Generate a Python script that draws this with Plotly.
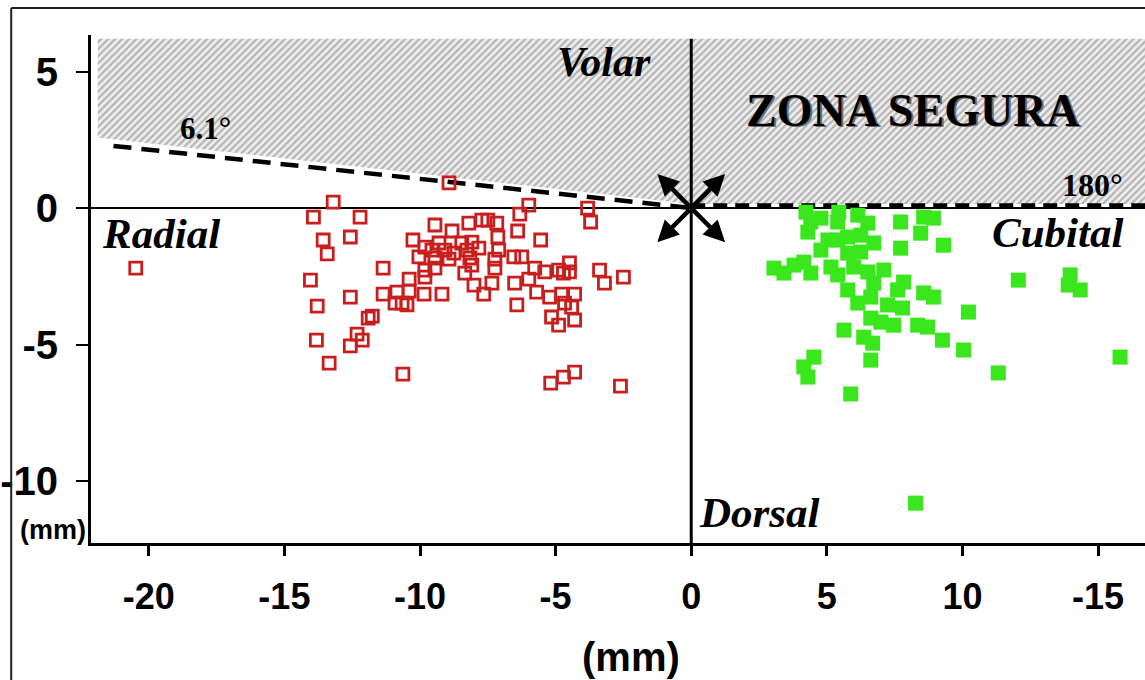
import numpy as np
import plotly.graph_objects as go

# Radial-side measurements (mm): open red squares
radial_x = [-20.48, -13.20, -13.93, -12.21, -13.57, -12.57, -13.42, -14.04, -11.36, -13.79,
            -12.57, -11.36, -11.76, -11.91, -13.82, -12.32, -12.13, -12.57, -13.35,
            -8.93, -5.99, -6.32, -3.82, -3.71, -9.45, -8.82, -8.20, -7.72, -7.50, -7.17,
            -7.13, -6.40, -5.55, -10.26, -9.82, -9.56, -9.30, -9.08, -8.75, -8.46, -8.27,
            -8.09, -7.83, -10.04, -9.45, -8.93, -8.16, -7.10, -7.24, -6.54, -6.25,
            -9.82, -9.45, -8.09, -7.24, -5.77, -5.40, -4.89, -4.49, -4.49, -4.71, -3.38,
            -3.20, -2.50, -10.40, -9.82, -8.35, -8.01, -7.35, -6.51, -5.99, -10.85, -10.40,
            -9.85, -9.19, -7.65, -5.70, -5.22, -4.78, -4.30, -10.92, -10.48, -10.66, -6.43,
            -4.67, -4.41, -5.15, -4.30, -4.89, -10.63, -5.18, -4.71, -4.30, -2.61]
radial_y = [-2.20, 0.22, -0.33, -0.33, -1.17, -1.06, -1.68, -2.64, -2.20, -3.59,
            -3.26, -3.15, -3.96, -4.03, -4.84, -4.62, -4.84, -5.05, -5.68,
            0.92, 0.11, -0.22, 0.00, -0.51, -0.62, -0.84, -0.55, -0.44, -0.44, -0.55,
            -1.06, -0.84, -1.17, -1.17, -1.43, -1.54, -1.28, -1.54, -1.65, -1.28, -1.54,
            -1.25, -1.47, -1.79, -1.83, -1.87, -1.83, -1.54, -1.87, -1.79, -1.79,
            -2.27, -2.20, -2.09, -2.20, -2.20, -2.34, -2.27, -2.01, -2.34, -2.38, -2.27,
            -2.75, -2.53, -2.60, -2.53, -2.38, -2.82, -2.75, -2.75, -2.60, -3.08, -3.04,
            -3.15, -3.15, -3.15, -3.08, -3.26, -3.15, -3.15, -3.48, -3.55, -3.48, -3.55,
            -3.48, -3.63, -3.99, -4.10, -4.29, -6.08, -6.41, -6.19, -6.01, -6.52]

# Ulnar-side measurements (mm): filled green squares
cubital_x = [4.41, 4.30, 4.78, 5.40, 6.14, 6.51, 7.72, 8.57, 8.93, 8.46, 9.30, 7.72,
             5.04, 5.40, 5.77, 6.25, 6.73, 4.78, 5.77, 6.25, 3.05, 3.42, 3.79, 4.15,
             4.41, 5.15, 5.40, 5.99, 6.51, 7.10, 6.73, 7.83, 5.77, 7.61, 8.57, 8.93,
             6.14, 6.62, 7.24, 7.79, 10.22, 12.06, 13.97, 13.90, 14.34, 5.63, 6.62,
             6.99, 7.46, 8.35, 8.71, 6.36, 6.69, 9.26, 10.04, 4.52, 4.15, 4.30, 6.62,
             11.32, 15.81, 5.88, 8.27, 4.23, 5.44]
cubital_y = [-0.51, -0.88, -0.37, -0.51, -0.26, -0.55, -0.51, -0.33, -0.37, -0.92, -1.36, -1.47,
             -1.17, -1.17, -1.06, -0.99, -1.28, -1.54, -1.65, -1.61, -2.20, -2.38, -2.09, -1.98,
             -2.38, -2.16, -2.45, -2.16, -2.34, -2.27, -2.75, -2.71, -3.00, -3.00, -3.11, -3.26,
             -3.48, -3.26, -3.55, -3.66, -3.81, -2.64, -2.45, -2.82, -3.00, -4.47, -4.03,
             -4.18, -4.29, -4.29, -4.36, -4.73, -4.95, -4.84, -5.20, -5.46, -5.82, -6.19, -5.57,
             -6.04, -5.46, -6.81, -10.81, -0.15, -0.15]

# Axis ticks (the last x label is printed as "-15" on the ulnar side)
x_tickvals = [-20, -15, -10, -5, 0, 5, 10, 15]
x_ticktext = ["-20", "-15", "-10", "-5", "0", "5", "10", "-15"]
y_tickvals = [5, 0, -5, -10]
y_ticktext = ["5", "0", "-5", "-10"]

# Safe-zone limits
radial_angle_deg = 6.1
ulnar_angle_deg = 180

X_MIN, X_MAX = -22.13, 16.73
Y_MIN, Y_MAX = -12.27, 6.34
HATCH_TOP = 6.2
HATCH_LEFT = -21.88

sans = "Liberation Sans, Arial, sans-serif"
serif = "Liberation Serif, Times New Roman, serif"

fig = go.Figure()

# hatched safe zone above the limit lines
slope = np.tan(np.radians(radial_angle_deg))
fig.add_trace(go.Scatter(
    x=[HATCH_LEFT, X_MAX, X_MAX, 0, HATCH_LEFT, HATCH_LEFT],
    y=[HATCH_TOP, HATCH_TOP, 0.15, 0.15, -HATCH_LEFT * slope + 0.25, HATCH_TOP],
    mode="lines", fill="toself", line=dict(width=0),
    fillcolor="rgba(0,0,0,0)",
    fillpattern=dict(shape="/", fgcolor="#7a7a7a", bgcolor="#eeeeee", size=5, solidity=0.45),
    hoverinfo="skip", showlegend=False,
))

# radial limit (6.1 deg) dashed line through the origin
line_x = np.array([-21.3, 0.0])
fig.add_trace(go.Scatter(
    x=line_x, y=-line_x * slope, mode="lines",
    line=dict(color="black", width=4.5, dash="18px,10px"),
    hoverinfo="skip", showlegend=False,
))
# ulnar limit (180 deg) dashed line
fig.add_trace(go.Scatter(
    x=[0, X_MAX], y=[0.1, 0.1], mode="lines",
    line=dict(color="black", width=4, dash="14px,8px"),
    hoverinfo="skip", showlegend=False,
))

# reference axes through the origin
fig.add_trace(go.Scatter(
    x=[X_MIN, X_MAX], y=[0, 0], mode="lines",
    line=dict(color="black", width=2), hoverinfo="skip", showlegend=False,
))
fig.add_trace(go.Scatter(
    x=[0, 0], y=[HATCH_TOP, Y_MIN], mode="lines",
    line=dict(color="black", width=3), hoverinfo="skip", showlegend=False,
))

fig.add_trace(go.Scatter(
    x=radial_x, y=radial_y, mode="markers", name="Radial",
    marker=dict(symbol="square-open", size=12, color="#c81e1e", line=dict(width=2.8, color="#c81e1e")),
    showlegend=False,
))
fig.add_trace(go.Scatter(
    x=cubital_x, y=cubital_y, mode="markers", name="Cubital",
    marker=dict(symbol="square", size=15, color="#3ae61c", line=dict(width=0)),
    showlegend=False,
))

annotations = []
# direction arrows at the origin
arm = 1.25
for sx, sy in [(1, 1), (1, -1), (-1, 1), (-1, -1)]:
    annotations.append(dict(
        x=sx * arm, y=sy * arm, ax=0, ay=0, xref="x", yref="y", axref="x", ayref="y",
        text="", showarrow=True, arrowhead=2, arrowsize=0.95, arrowwidth=4.5,
        arrowcolor="black", standoff=0, startstandoff=0,
    ))

def label(text, x, y, size, italic=True, bold=True, color="black"):
    annotations.append(dict(
        x=x, y=y, xref="x", yref="y", text=text, showarrow=False,
        xanchor="center", yanchor="middle",
        font=dict(family=serif, size=size, color=color,
                  style="italic" if italic else "normal",
                  weight="bold" if bold else "normal"),
    ))

label("Volar", -3.2, 5.35, 42)
label("Radial", -19.56, -0.92, 43)
label("Cubital", 13.5, -0.88, 43)
label("Dorsal", 2.5, -11.17, 43)
label(f"{radial_angle_deg}°", -17.9, 2.93, 31, italic=False)
label(f"{ulnar_angle_deg}°", 14.8, 0.84, 32, italic=False)
# engraved-looking title with a soft shadow
label("ZONA SEGURA", 8.24, 3.52, 46, italic=False, color="#6e6e6e")
label("ZONA SEGURA", 8.16, 3.59, 46, italic=False)

# axis unit labels
annotations.append(dict(
    x=0.5128, y=-0.224, xref="paper", yref="paper", text="(mm)", showarrow=False,
    xanchor="center", yanchor="middle",
    font=dict(family=sans, size=40, color="black", weight="bold"),
))
annotations.append(dict(
    x=-0.036, y=0.026, xref="paper", yref="paper", text="(mm)", showarrow=False,
    xanchor="center", yanchor="middle",
    font=dict(family=sans, size=27, color="black", weight="bold"),
))

# outer frame of the figure
shapes = [
    dict(type="line", xref="paper", yref="paper", x0=-0.0757, x1=-0.0757, y0=-0.3, y1=1.0531,
         line=dict(color="#222", width=2)),
    dict(type="line", xref="paper", yref="paper", x0=-0.0757, x1=1.01, y0=1.0531, y1=1.0531,
         line=dict(color="#222", width=2)),
]

fig.update_layout(
    width=1145, height=680,
    margin=dict(l=88, r=0, t=35, b=137),
    paper_bgcolor="white", plot_bgcolor="white",
    showlegend=False,
    annotations=annotations,
    shapes=shapes,
    xaxis=dict(
        range=[X_MIN, X_MAX], tickvals=x_tickvals, ticktext=x_ticktext,
        showgrid=False, zeroline=False, showline=True, linecolor="black", linewidth=3,
        ticks="outside", ticklen=10, tickwidth=3, tickcolor="black",
        ticklabelstandoff=10,
        tickfont=dict(family=sans, size=36, color="black", weight="bold"),
    ),
    yaxis=dict(
        range=[Y_MIN, Y_MAX], tickvals=y_tickvals, ticktext=y_ticktext,
        showgrid=False, zeroline=False, showline=True, linecolor="black", linewidth=3,
        ticks="outside", ticklen=12, tickwidth=2, tickcolor="black",
        ticklabelstandoff=10,
        tickfont=dict(family=sans, size=40, color="black", weight="bold"),
    ),
)

fig.write_html("out.html")
